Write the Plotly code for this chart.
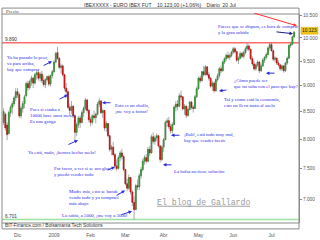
import pandas as pd
import plotly.graph_objects as go

# ---------------- data ----------------
holidays = ["2008-12-25", "2008-12-26", "2009-01-01", "2009-04-10", "2009-04-13", "2009-05-01"]
days = [d for d in pd.bdate_range("2008-11-19", "2009-07-20") if d.strftime("%Y-%m-%d") not in holidays]
dates = [d.strftime("%Y-%m-%d") for d in days]

opens = [
    8300, 8450, 8250, 8100, 8480, 8580, 8650, 8760,  # Nov
    8880, 8820, 8420, 8560, 8650, 8800, 9040, 8960, 9080, 9150, 9050, 9220, 9260, 9150, 9230, 9100, 9020, 9120, 9180, 9030, 9200,  # Dec
    9280, 9480, 9680, 9560, 9370, 9400, 9220, 8950, 8880, 8580, 8520, 8600, 8420, 8120, 8260, 8380, 8300, 8480, 8560, 8720, 8520,  # Jan
    8350, 8300, 8420, 8390, 8450, 8640, 8700, 8480, 8520, 8200, 8280, 8060, 7820, 7860, 7730, 7540, 7500, 7680, 7760, 7700,  # Feb
    7480, 7250, 7180, 7350, 7120, 6960, 6850, 7220, 7200, 7380, 7480, 7620, 7680, 7620, 7820, 7760, 8040, 7960, 8020, 8060, 7880, 7650,  # Mar
    7860, 7990, 8300, 8330, 8220, 8150, 8260, 8580, 8640, 8600, 8800, 8780, 8550, 8600, 8430, 8540, 8680, 8580, 8560, 8780,  # Apr
    8940, 9150, 9100, 9280, 9220, 9380, 9220, 9150, 8990, 9050, 8900, 9120, 9200, 9340, 9300, 9480, 9550, 9620, 9580, 9620,  # May
    9690, 9760, 9700, 9520, 9560, 9660, 9600, 9680, 9760, 9820, 9750, 9550, 9440, 9340, 9420, 9480, 9300, 9400, 9520, 9580, 9640, 9780,  # Jun
    9850, 9720, 9540, 9560, 9460, 9420, 9340, 9400, 9300, 9460, 9560, 9830, 9860, 10020,  # Jul
]
highs = [
    8560, 8480, 8300, 8520, 8620, 8700, 8800, 8950,
    8950, 8860, 8600, 8700, 8820, 9080, 9100, 9120, 9200, 9180, 9260, 9300, 9320, 9280, 9300, 9200, 9150, 9200, 9220, 9220, 9320,
    9520, 9700, 9800, 9580, 9450, 9430, 9240, 9050, 8900, 8650, 8700, 8620, 8450, 8300, 8420, 8430, 8520, 8600, 8760, 8740, 8560,
    8400, 8450, 8520, 8480, 8680, 8760, 8720, 8560, 8530, 8330, 8290, 8070, 7900, 7950, 7760, 7650, 7720, 7800, 7830, 7720,
    7490, 7330, 7400, 7360, 7150, 7050, 7250, 7320, 7420, 7520, 7660, 7720, 7740, 7860, 7880, 8080, 8120, 8060, 8100, 8070, 7890, 7900,
    8020, 8330, 8380, 8400, 8280, 8300, 8620, 8700, 8720, 8850, 8900, 8790, 8640, 8620, 8580, 8700, 8700, 8620, 8820, 8980,
    9180, 9200, 9300, 9400, 9420, 9390, 9280, 9170, 9100, 9080, 9150, 9250, 9380, 9400, 9520, 9580, 9660, 9700, 9660, 9720,
    9800, 9800, 9720, 9600, 9700, 9700, 9720, 9800, 9880, 9860, 9760, 9600, 9500, 9450, 9520, 9500, 9450, 9560, 9600, 9680, 9820, 9900,
    9900, 9740, 9600, 9580, 9520, 9440, 9430, 9420, 9480, 9600, 9860, 9900, 10050, 10150,
]
lows = [
    8250, 8150, 7980, 8080, 8400, 8450, 8600, 8700,
    8760, 8380, 8370, 8480, 8560, 8780, 8900, 8920, 9000, 8950, 9020, 9120, 9100, 9080, 9050, 8980, 8950, 9080, 8990, 8980, 9150,
    9260, 9450, 9530, 9330, 9250, 9180, 8900, 8800, 8550, 8420, 8450, 8380, 7980, 8050, 8200, 8200, 8280, 8400, 8520, 8480, 8300,
    8230, 8260, 8350, 8280, 8430, 8580, 8450, 8380, 8150, 8120, 8030, 7780, 7720, 7700, 7480, 7460, 7480, 7620, 7650, 7450,
    7220, 7130, 7150, 7080, 6900, 6701, 6840, 7150, 7150, 7330, 7450, 7560, 7580, 7600, 7700, 7750, 7920, 7900, 7960, 7850, 7600, 7620,
    7780, 7980, 8220, 8180, 8100, 8100, 8250, 8500, 8520, 8580, 8720, 8520, 8440, 8380, 8400, 8520, 8540, 8480, 8550, 8760,
    8920, 9050, 9080, 9180, 9200, 9180, 9100, 8960, 8900, 8860, 8880, 9080, 9150, 9250, 9280, 9440, 9500, 9540, 9520, 9580,
    9650, 9660, 9480, 9440, 9540, 9560, 9560, 9640, 9720, 9700, 9520, 9400, 9300, 9300, 9380, 9250, 9280, 9380, 9460, 9540, 9620, 9720,
    9700, 9500, 9480, 9420, 9380, 9300, 9300, 9260, 9280, 9420, 9550, 9780, 9840, 10000,
]
closes = [
    8500, 8200, 8080, 8480, 8580, 8650, 8760, 8880,
    8820, 8420, 8560, 8650, 8780, 9040, 8960, 9080, 9150, 9050, 9220, 9260, 9150, 9230, 9100, 9020, 9120, 9180, 9030, 9200, 9280,
    9480, 9660, 9560, 9370, 9400, 9220, 8950, 8880, 8580, 8520, 8600, 8420, 8120, 8260, 8380, 8300, 8480, 8560, 8720, 8520, 8350,
    8300, 8420, 8390, 8450, 8640, 8700, 8480, 8520, 8200, 8280, 8060, 7820, 7860, 7730, 7540, 7500, 7680, 7760, 7700, 7480,
    7250, 7180, 7350, 7120, 6960, 6850, 7220, 7200, 7380, 7480, 7620, 7680, 7620, 7820, 7760, 8040, 7960, 8020, 8060, 7880, 7650, 7860,
    7990, 8300, 8330, 8220, 8150, 8260, 8580, 8640, 8600, 8800, 8780, 8550, 8600, 8430, 8540, 8680, 8580, 8560, 8780, 8940,
    9150, 9100, 9280, 9220, 9380, 9220, 9150, 8990, 9050, 8900, 9120, 9200, 9340, 9300, 9480, 9550, 9620, 9580, 9620, 9690,
    9760, 9700, 9520, 9560, 9660, 9600, 9680, 9760, 9820, 9750, 9550, 9440, 9340, 9420, 9480, 9300, 9400, 9520, 9580, 9640, 9780, 9850,
    9720, 9540, 9560, 9460, 9420, 9340, 9400, 9300, 9460, 9560, 9830, 9860, 10020, 10123,
]
assert len(dates) == len(opens) == len(highs) == len(lows) == len(closes), (len(dates), len(opens), len(highs), len(lows), len(closes))

month_ticks = ["2008-12-01", "2009-01-02", "2009-02-02", "2009-03-02", "2009-04-01", "2009-05-04", "2009-06-01", "2009-07-01"]
month_labels = ["Dic", "2009", "Feb", "Mar", "Abr", "May", "Jun", "Jul"]
price_ticks = [7000, 7500, 8000, 8500, 9000, 9500, 10000, 10500]
resistance = 9890
support = 6701
last_price = 10123

# ------------- geometry helpers (pixels -> paper) -------------
W, H = 320, 240
L, R, T, B = 2, 299, 14, 226
def px(x):
    return (x - L) / (R - L)
def py(y):
    return (B - y) / (B - T)

BLUE = "#2b2bdf"
SERIF = "Liberation Serif"
SANS = "Liberation Sans"
AFS = 4.8  # annotation font size

fig = go.Figure()
# wicks
fig.add_trace(go.Candlestick(
    x=dates, open=opens, high=highs, low=lows, close=closes,
    increasing=dict(line=dict(color="#707070", width=0.6), fillcolor="#707070"),
    decreasing=dict(line=dict(color="#707070", width=0.6), fillcolor="#707070"),
    whiskerwidth=0, hoverinfo="skip", showlegend=False,
))
# bodies
body_hi = [max(o, c) for o, c in zip(opens, closes)]
body_lo = [min(o, c) for o, c in zip(opens, closes)]
fig.add_trace(go.Candlestick(
    x=dates, open=opens, high=body_hi, low=body_lo, close=closes,
    increasing=dict(line=dict(color="#2a8a2a", width=0.5), fillcolor="#3cb83c"),
    decreasing=dict(line=dict(color="#c00000", width=0.5), fillcolor="#e82020"),
    whiskerwidth=0, showlegend=False,
))

shapes = [
    dict(type="line", xref="paper", x0=0, x1=1, yref="y", y0=resistance, y1=resistance,
         line=dict(color="#ff6b6b", width=1.5), layer="below"),
    dict(type="line", xref="paper", x0=0, x1=1, yref="y", y0=support, y1=support,
         line=dict(color="#9ee09e", width=1.5), layer="below"),
    # outer frame incl. header & footer
    dict(type="rect", xref="paper", yref="paper", x0=0, x1=1, y0=py(232), y1=py(8),
         line=dict(color="#8a8a8a", width=1)),
    dict(type="line", xref="paper", yref="paper", x0=0, x1=1, y0=1, y1=1, line=dict(color="#8a8a8a", width=1)),
    dict(type="line", xref="paper", yref="paper", x0=0, x1=1, y0=0, y1=0, line=dict(color="#8a8a8a", width=1)),
    # watermark underline
    dict(type="line", xref="paper", yref="paper", x0=px(157), x1=px(250), y0=py(209), y1=py(209),
         line=dict(color="#a0a0a0", width=1)),
    # last price box
    dict(type="rect", xref="paper", yref="paper", x0=px(301), x1=px(318), y0=py(34.5), y1=py(27.5),
         fillcolor="#f0c419", line=dict(color="#d9a800", width=0.5)),
]

ann = []
def text(x, y, s, color=BLUE, size=AFS, font=SERIF, anchor="left", vanchor="top"):
    ann.append(dict(xref="paper", yref="paper", x=px(x), y=py(y), text=s, showarrow=False,
                    xanchor=anchor, yanchor=vanchor, align="left",
                    font=dict(family=font, size=size, color=color)))
def arrow(x0, y0, x1, y1, color=BLUE, width=1):
    ann.append(dict(xref="paper", yref="paper", x=px(x1), y=py(y1), ax=x0 - x1, ay=y0 - y1,
                    text="", showarrow=True, arrowhead=2, arrowsize=0.7, arrowwidth=width,
                    arrowcolor=color, standoff=0, startstandoff=0))

text(5, 54, "Ya ha pasado lo peor,<br>va para arriba,<br>hay que comprar")
arrow(42, 67, 52, 62)
text(28, 106, "Pues si estaba a<br>10000 hace unos meses<br>Es una ganga")
arrow(58, 101, 68, 96)
text(113, 102, "Esto es un chollo,<br>¡me voy a forrar!")
arrow(112, 104, 102, 104)
text(26, 150, "Ya está, malo, ¡hemos hecho suelo!")
arrow(67, 147, 78, 142)
text(52, 166, "Por favor, a ver si se arreglan,<br>y puedo vender todo")
arrow(106, 173, 115, 169)
text(67, 189, "Madre mía, esto se hunde,<br>vendo todo y ya compraré<br>más abajo")
arrow(115, 199, 125, 193)
text(60, 214, "Lo sabía, a 5000, ¡me voy a 3000!")
arrow(120, 218, 132, 214)
text(172, 169, "La bolsa no tiene solución")
arrow(173, 167, 163, 167)
text(182, 132, "¡Bah!, está todo muy mal,<br>hay que vender fuerte")
arrow(181, 137, 171, 137)
text(222, 96, "Tal y como está la economía,<br>esto no lleva tanto al suelo")
arrow(228, 91, 219, 92)
text(232, 77, "¿Cómo puede ser<br>que no suba con el paro que hay?")
arrow(276, 74, 266, 74)
text(216, 22, "Parece que se dispara, es hora de comprar<br>y la gran subida")
arrow(275, 32, 293, 34, color="#1a1a8a")
arrow(253, 13, 297, 26, color="#ff3030")

# chrome texts
text(160, 4.5, "IBEXXXXX - EURO IBEX FUT    10.123,00 (+1,06%)    Diario  20 Jul",
     color="#333333", size=5, font=SANS, anchor="center", vanchor="middle")
text(4, 11, "Precio", color="#444444", size=5, font=SERIF, vanchor="middle")
text(3, 39.5, f"{resistance:,}".replace(",", "."), color="#333333", size=4.8, font=SANS, vanchor="middle")
text(3, 219.5, f"{support:,}".replace(",", "."), color="#333333", size=4.8, font=SANS, vanchor="middle")
text(3, 229, "BIT-Finance.com / Bolsamania Tech Solutions", color="#333333", size=4.8, font=SANS, vanchor="middle")
text(309.5, 31, f"{last_price/1000:.3f}", color="#222222", size=4.8, font=SANS,
     anchor="center", vanchor="middle")
text(203, 205, "El blog de Gallardo", color="#9a9a9a", size=8.2, font="Liberation Mono",
     anchor="center", vanchor="middle")

fig.update_layout(
    width=W, height=H, margin=dict(l=L, r=W - R, t=T, b=H - B),
    paper_bgcolor="white", plot_bgcolor="white",
    separators=",.",
    shapes=shapes, annotations=ann,
    xaxis=dict(type="category", range=[-0.92, 169.8], rangeslider=dict(visible=False),
               tickmode="array", tickvals=month_ticks, ticktext=month_labels,
               showgrid=False, zeroline=False, showline=False, ticks="",
               tickfont=dict(family=SANS, size=5, color="#555555"), ticklabelstandoff=8),
    yaxis=dict(type="log", side="right", range=[3.82279, 4.02279],
               tickmode="array", tickvals=price_ticks, tickformat=",.0f",
               showgrid=False, zeroline=False, showline=True, linecolor="#8a8a8a", linewidth=1,
               ticks="outside", ticklen=2, tickcolor="#8a8a8a",
               tickfont=dict(family=SANS, size=4.8, color="#555555")),
    showlegend=False,
)
fig.write_html("out.html")
